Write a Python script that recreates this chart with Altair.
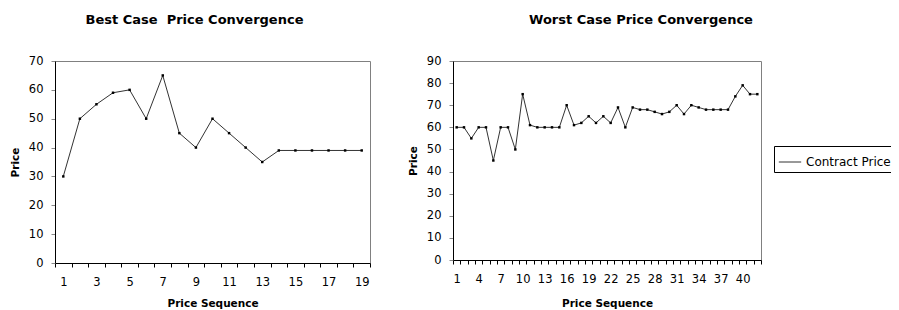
import altair as alt
import pandas as pd

best_case = [30, 50, 55, 59, 60, 50, 65, 45, 40, 50, 45, 40, 35, 39, 39, 39, 39, 39, 39]
worst_case = [60, 60, 55, 60, 60, 45, 60, 60, 50, 75, 61, 60, 60, 60, 60, 70, 61, 62, 65, 62,
              65, 62, 69, 60, 69, 68, 68, 67, 66, 67, 70, 66, 70, 69, 68, 68, 68, 68, 74, 79,
              75, 75]
series_name = "Contract Price"
titles = ["Best Case\u00a0 Price Convergence", "Worst Case Price Convergence"]
y_max = [70, 90]
label_step = [2, 3]

FONT = "DejaVu Sans"


def panel(values, ymax, step, title, dx, w, h, show_legend, xtitle_pad):
    n = len(values)
    df = pd.DataFrame({"seq": list(range(1, n + 1)), "price": values, "series": series_name})
    boundaries = [i + 0.5 for i in range(0, n + 1)]
    centers = list(range(1, n + 1))
    tick_vals = sorted(boundaries + centers)
    x = alt.X(
        "seq:Q",
        scale=alt.Scale(domain=[0.5, n + 0.5], nice=False, zero=False),
        axis=alt.Axis(
            values=tick_vals,
            labelExpr=f"(datum.value % 1 == 0 && (datum.value - 1) % {step} == 0) ? '' + datum.value : ''",
            tickColor={"condition": {"test": "datum.value % 1 != 0", "value": "#000000"}, "value": "rgba(0,0,0,0)"},
            labelOverlap=False,
            labelFlush=False,
            labelBound=False,
            grid=False,
            title="Price Sequence",
            tickSize=4,
            labelPadding=9,
            titlePadding=xtitle_pad,
        ),
    )
    y = alt.Y(
        "price:Q",
        scale=alt.Scale(domain=[0, ymax], nice=False),
        axis=alt.Axis(
            values=list(range(0, ymax + 1, 10)),
            labelOverlap=False,
            grid=False,
            title="Price",
            tickSize=4,
            labelPadding=8,
            titlePadding=8,
        ),
    )
    if show_legend:
        legend = alt.Legend(
            title=None,
            orient="none",
            legendX=321,
            legendY=85,
            symbolType="stroke",
            symbolSize=500,
            symbolStrokeWidth=1,
            strokeColor="#000000",
            fillColor="#ffffff",
            padding=4,
            cornerRadius=0,
            labelFont=FONT,
            labelFontSize=12,
            labelColor="#000000",
            labelOffset=4,
        )
    else:
        legend = None
    color = alt.Color("series:N", scale=alt.Scale(domain=[series_name], range=["#333333"]), legend=legend)
    base = alt.Chart(df).encode(x=x, y=y)
    line = base.mark_line(strokeWidth=1).encode(color=color)
    pts = base.mark_point(shape="square", filled=True, size=6, color="#000000", opacity=1)
    return alt.layer(line, pts).properties(
        width=w,
        height=h,
        title=alt.TitleParams(
            title,
            font=FONT,
            fontSize=13,
            fontWeight="bold",
            color="#000000",
            anchor="middle",
            frame="group",
            dx=dx,
            offset=28,
        ),
    )


left = panel(best_case, y_max[0], label_step[0], titles[0], -18, 315, 202, False, 11)
right = panel(worst_case, y_max[1], label_step[1], titles[1], 34, 308, 199, True, 14)

chart = (
    alt.hconcat(left, right, spacing=36)
    .resolve_legend(color="independent")
    .properties(padding={"left": 1, "top": 5, "right": -5, "bottom": 0})
    .configure_view(stroke="#808080", strokeWidth=1)
    .configure_axis(
        labelFont=FONT,
        labelFontSize=11.5,
        labelColor="#000000",
        titleFont=FONT,
        titleFontSize=10.5,
        titleFontWeight="bold",
        titleColor="#000000",
        domainColor="#000000",
        domainWidth=1,
        tickWidth=1,
    )
)

chart.save("out.html", embed_options={"renderer": "svg", "actions": False})
